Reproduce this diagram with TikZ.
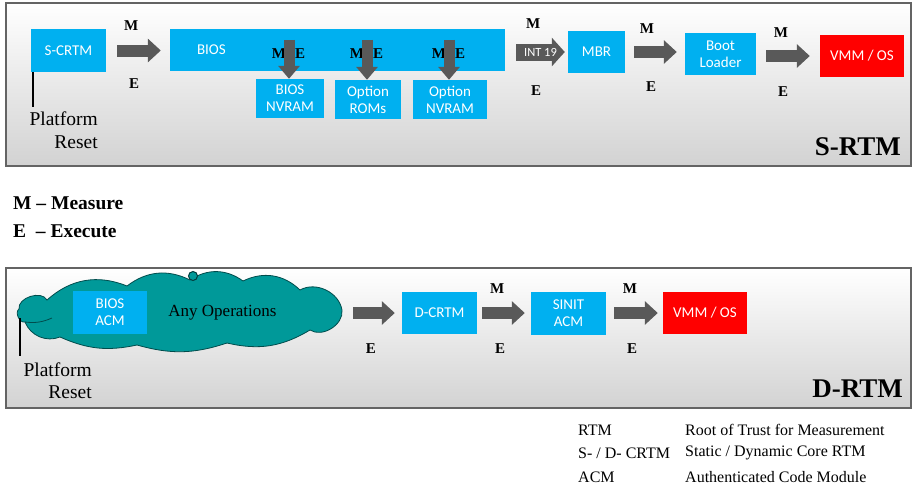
\documentclass[tikz,border=0pt]{standalone}
\usepackage{fontspec}
\setmainfont{Liberation Serif}
\newfontfamily\boxfont{Carlito}
\usetikzlibrary{arrows.meta}
\definecolor{boxblue}{RGB}{0,176,240}
\definecolor{arrowgray}{RGB}{89,89,89}
\definecolor{cloudteal}{RGB}{0,153,153}
\definecolor{panelline}{RGB}{100,100,100}

\begin{document}
\begin{tikzpicture}[x=1pt,y=-1pt,
  box/.style={fill=boxblue, text=white, font=\boxfont\fontsize{15}{17}\selectfont, align=center, inner sep=0pt},
  osbox/.style={box, fill=red},
  bigarrow/.style={draw=arrowgray, line width=12pt, -{Triangle[length=13pt,width=23pt]}},
  downarrow/.style={draw=arrowgray, line width=11pt, -{Triangle[length=13pt,width=21pt]}},
  melab/.style={font=\bfseries\fontsize{15}{15}\selectfont, inner sep=0pt},
  panel/.style={draw=panelline, line width=1.5pt, top color=white, bottom color=gray!35},
  reset/.style={font=\fontsize{19.5}{23}\selectfont, align=right, inner sep=0pt, anchor=north east},
  legend/.style={font=\fontsize{16}{16}\selectfont, anchor=west, inner sep=0pt}]
\useasboundingbox (0,0) rectangle (916,488);

%Shape: Rectangle [S-RTM panel]
\draw[panel] (6,3) rectangle (911,166);

% Boxes
\node[box, minimum width=75pt, minimum height=43pt] (scrtm) at (68.5,50.5) {S-CRTM};
\node[box, minimum width=335pt, minimum height=42pt, text width=281pt, inner xsep=27pt, align=left] (bios) at (337.5,50) {BIOS};
\node[box, minimum width=68pt, minimum height=39pt] (biosnv) at (290,98.5) {BIOS\\NVRAM};
\node[box, minimum width=66pt, minimum height=39pt] (optrom) at (368,99.5) {Option\\ROMs};
\node[box, minimum width=74pt, minimum height=39pt] (optnv) at (450,99.5) {Option\\NVRAM};
\node[box, minimum width=57pt, minimum height=42pt] (mbr) at (596.5,52) {MBR};
\node[box, minimum width=71pt, minimum height=42pt] (boot) at (720.5,54) {Boot\\Loader};
\node[osbox, minimum width=84pt, minimum height=42pt] (vmmtop) at (862,56) {VMM / OS};

% M E over the BIOS
\foreach \n in {biosnv,optrom,optnv}{
  \node[melab] at ([xshift=-11pt,yshift=-3.5pt]\n.north |- bios.center) {M};
  \node[melab] at ([xshift=10pt,yshift=-3.5pt]\n.north |- bios.center) {E};
  \draw[downarrow] ([xshift=-1pt,yshift=-11pt]\n.north |- bios.north) -- ([xshift=-1pt]\n.north);
}

% Arrows
\draw[bigarrow] ([xshift=11pt]scrtm.east) -- ([xshift=-9pt]bios.west |- scrtm.east)
  node[melab, pos=0.32, above=14pt] {M} node[melab, pos=0.39, below=22pt] {E};
\draw[bigarrow, line width=17pt, -{Triangle[length=13pt,width=28pt]}] ([xshift=11pt]bios.east |- mbr.west) -- ([xshift=-3pt]mbr.west)
  node[midway, text=white, inner sep=0pt, font=\boxfont\fontsize{12.5}{12.5}\selectfont] (int) {INT 19}
  node[melab, pos=0.35, above=15pt] {M} node[melab, pos=0.41, below=25pt] {E};
\draw[bigarrow] ([xshift=9pt]mbr.east) -- ([xshift=-8pt]boot.west |- mbr.east)
  node[melab, pos=0.3, above=13pt] {M} node[melab, pos=0.4, below=24pt] {E};
\draw[bigarrow] ([xshift=10pt]boot.east |- vmmtop.west) -- ([xshift=-10pt]vmmtop.west)
  node[melab, pos=0.34, above=13pt] {M} node[melab, pos=0.39, below=25pt] {E};

% Platform Reset
\node[reset] (resettop) at (98,111.5) {Platform\\Reset};
\draw[line width=2pt] ([xshift=2pt]scrtm.south west) -- ([xshift=2pt,yshift=4.5pt]scrtm.south west |- resettop.north);

% Text Node
\node[font=\bfseries\fontsize{27}{27}\selectfont, anchor=south east, inner sep=0pt] (srtm) at (901,156) {S-RTM};

% Legend
\node[anchor=west, font=\bfseries\fontsize{19.5}{19.5}\selectfont, inner sep=0pt] (measure) at (13,203) {M – Measure};
\node[anchor=west, font=\bfseries\fontsize{19.5}{19.5}\selectfont, inner sep=0pt] (execute) at (13,231) {E \ – Execute};

%Shape: Rectangle [D-RTM panel]
\draw[panel] (6,268) rectangle (911,408);

%Shape: Cloud
\draw[fill=cloudteal, draw=cloudteal!50!black, line width=0.8pt]
  (19,309) to[bend left=80] (47,300) to[bend left=32] (127,286) to[bend left=32] (190,280)
  to[bend left=35] (243,281) to[bend left=35] (300,290) to[bend left=55] (342,310)
  to[bend left=65] (310,330) to[bend left=22] (227,343) to[bend left=17] (137,345)
  to[bend left=18] (60,337) to[bend left=45] (25,322) to[bend left=80] (19,309) -- cycle;
\draw[draw=cloudteal!50!black, line width=0.8pt] (25,322) to[bend right=15] (52,318);
\node[circle, minimum size=9pt, inner sep=0pt, fill=cloudteal, draw=cloudteal!40!black, line width=1pt] (knob) at (193,276) {};
\coordinate (ops) at (345,313);
\node[box, minimum width=74pt, minimum height=43pt] (biosacm) at (110,312.5) {BIOS\\ACM};
\node[inner sep=0pt, font=\fontsize{17}{17}\selectfont] (anyops) at (222.5,313) {Any Operations};

\node[box, minimum width=75pt, minimum height=42pt] (dcrtm) at (439.5,313) {D-CRTM};
\node[box, minimum width=75pt, minimum height=43pt] (sinit) at (568.5,313.5) {SINIT\\ACM};
\node[osbox, minimum width=84pt, minimum height=42pt] (vmmbot) at (705,313) {VMM / OS};

\draw[bigarrow] ([xshift=8pt]ops |- dcrtm.west) -- ([xshift=-7pt]dcrtm.west)
  node[melab, pos=0.43, below=25pt] {E};
\draw[bigarrow] ([xshift=5pt]dcrtm.east) -- ([xshift=-6pt]sinit.west |- dcrtm.east)
  node[melab, pos=0.35, above=14pt] {M} node[melab, pos=0.42, below=25pt] {E};
\draw[bigarrow] ([xshift=8pt]sinit.east |- vmmbot.west) -- ([xshift=-5pt]vmmbot.west)
  node[melab, pos=0.36, above=14pt] {M} node[melab, pos=0.41, below=25pt] {E};

\coordinate (resetpt) at (20,318);
\node[reset, font=\fontsize{19.5}{22}\selectfont] (resetbot) at (92,363) {Platform\\Reset};
\draw[line width=2pt] (resetpt) -- ([yshift=7pt]resetpt |- resetbot.north);

\node[font=\bfseries\fontsize{27}{27}\selectfont, anchor=south east, inner sep=0pt] (drtm) at (903,398) {D-RTM};

% Abbreviations
\node[legend] (rtm) at (578,430) {RTM};
\node[legend] (rtmdef) at (685,430) {Root of Trust for Measurement};
\node[legend] (crtm) at (578,453) {S- / D- CRTM};
\node[legend] (crtmdef) at (685,453) {Static / Dynamic Core RTM};
\node[legend] (acm) at (578,477) {ACM};
\node[legend] (acmdef) at (685,477) {Authenticated Code Module};

\end{tikzpicture}
\end{document}
